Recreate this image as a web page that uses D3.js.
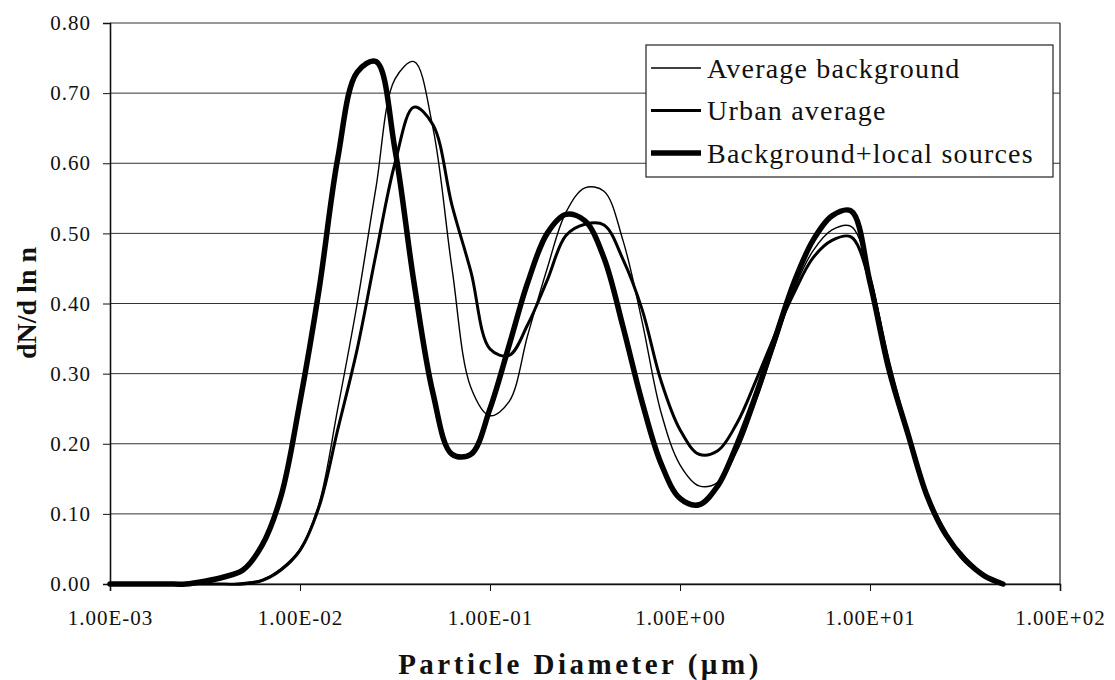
<!DOCTYPE html>
<meta charset="utf-8">
<style>
    body { margin: 0; background: #fff; }
    text { font-family: "Liberation Serif", "Times New Roman", serif; fill: #111; }
    .tick text { font-size: 21px; letter-spacing: 1px; }
    .grid line { stroke: #333; stroke-width: 1px; }
    .series { fill: none; stroke: #000; stroke-linejoin: round; stroke-linecap: round; }
</style>
<body>
<script src="https://cdn.jsdelivr.net/npm/d3@7"></script>
<script>
// particle diameter bins (um)
var sizes = [0.001, 0.00126, 0.00158, 0.002, 0.00251, 0.00316, 0.00398, 0.00501, 0.00631, 0.00794,
    0.01, 0.0126, 0.0158, 0.02, 0.0251, 0.0316, 0.0398, 0.0501, 0.0631, 0.0794,
    0.1, 0.126, 0.158, 0.2, 0.251, 0.316, 0.398, 0.501, 0.631, 0.794,
    1, 1.26, 1.58, 2, 2.51, 3.16, 3.98, 5.01, 6.31, 7.94,
    10, 12.6, 15.8, 20, 25.1, 31.6, 39.8, 50.1];

var averageBackground = [0, 0, 0, 0, 0, 0, 0, 0.002, 0.006, 0.022,
    0.05, 0.115, 0.25, 0.40, 0.565, 0.72, 0.745, 0.65, 0.45, 0.28,
    0.24, 0.26, 0.355, 0.45, 0.53, 0.565, 0.56, 0.49, 0.375, 0.245,
    0.17, 0.14, 0.145, 0.19, 0.26, 0.34, 0.42, 0.475, 0.505, 0.51,
    0.44, 0.315, 0.22, 0.13, 0.075, 0.035, 0.013, 0];

var urbanAverage = [0, 0, 0, 0, 0, 0, 0, 0, 0.005, 0.02,
    0.048, 0.11, 0.22, 0.335, 0.47, 0.60, 0.68, 0.655, 0.54, 0.445,
    0.335, 0.326, 0.37, 0.433, 0.497, 0.513, 0.512, 0.463, 0.392, 0.29,
    0.22, 0.185, 0.19, 0.23, 0.29, 0.355, 0.415, 0.465, 0.49, 0.495,
    0.43, 0.315, 0.215, 0.125, 0.07, 0.032, 0.012, 0];

var backgroundLocal = [0, 0, 0, 0, 0, 0.004, 0.01, 0.02, 0.055, 0.125,
    0.26, 0.42, 0.607, 0.73, 0.745, 0.62, 0.43, 0.272, 0.185, 0.185,
    0.25, 0.34, 0.43, 0.50, 0.527, 0.518, 0.465, 0.367, 0.26, 0.172,
    0.122, 0.113, 0.14, 0.20, 0.27, 0.35, 0.43, 0.49, 0.525, 0.532,
    0.43, 0.305, 0.215, 0.125, 0.07, 0.035, 0.012, 0];

var seriesNames = ["Average background", "Urban average", "Background+local sources"];
var seriesValues = [averageBackground, urbanAverage, backgroundLocal];
var seriesWidths = [1.4, 3, 5.5];

var xTicks = [1e-3, 1e-2, 1e-1, 1e0, 1e1, 1e2];
var yTicks = [0, 0.1, 0.2, 0.3, 0.4, 0.5, 0.6, 0.7, 0.8];

var width = 1115, height = 680;
var plot = {left: 110, right: 1060, top: 23, bottom: 584};

var svg = d3.select("body").append("svg")
    .attr("width", width)
    .attr("height", height);

var x = d3.scaleLog().domain([1e-3, 1e2]).range([plot.left, plot.right]);
var y = d3.scaleLinear().domain([0, 0.8]).range([plot.bottom, plot.top]);

// horizontal gridlines
svg.append("g")
    .attr("class", "grid")
    .selectAll("line")
    .data(yTicks)
    .enter().append("line")
    .attr("x1", plot.left)
    .attr("x2", plot.right)
    .attr("y1", function(d) { return y(d); })
    .attr("y2", function(d) { return y(d); });

// plot frame (right side)
svg.append("line")
    .attr("x1", plot.right).attr("x2", plot.right)
    .attr("y1", plot.top).attr("y2", plot.bottom)
    .attr("stroke", "#222").attr("stroke-width", 1.2);

// y axis
svg.append("g")
    .attr("transform", "translate(" + plot.left + ",0)")
    .call(d3.axisLeft(y).tickValues(yTicks).tickFormat(d3.format(".2f")).tickSizeOuter(0).tickSize(7).tickPadding(12));

// x axis
svg.append("g")
    .attr("transform", "translate(0," + plot.bottom + ")")
    .call(d3.axisBottom(x).tickValues(xTicks).tickFormat(function(d) {
        var e = Math.round(Math.log10(d));
        return "1.00E" + (e < 0 ? "-" : "+") + String(Math.abs(e)).padStart(2, "0");
    }).tickSizeOuter(0).tickSize(7).tickPadding(19));

svg.selectAll(".domain").attr("stroke", "#111").attr("stroke-width", 1.6);
svg.selectAll(".tick line").attr("stroke", "#111");

// curves
var line = d3.line()
    .x(function(d) { return x(d[0]); })
    .y(function(d) { return y(d[1]); })
    .curve(d3.curveCatmullRom.alpha(0.5));

seriesValues.forEach(function(vals, i) {
    svg.append("path")
        .attr("class", "series")
        .attr("stroke-width", seriesWidths[i])
        .attr("d", line(d3.zip(sizes, vals)));
});

// axis titles
svg.append("text")
    .attr("x", 580)
    .attr("y", 674)
    .attr("text-anchor", "middle")
    .style("font-size", "29px")
    .style("font-weight", "bold")
    .style("letter-spacing", "3.5px")
    .text("Particle Diameter (\u00b5m)");

svg.append("text")
    .attr("transform", "translate(36,303) rotate(-90)")
    .attr("text-anchor", "middle")
    .style("font-size", "28px")
    .style("font-weight", "bold")
    .text("dN/d ln n");

// legend
var legend = svg.append("g").attr("transform", "translate(646,45)");

legend.append("rect")
    .attr("width", 407)
    .attr("height", 132)
    .attr("fill", "#fff")
    .attr("stroke", "#222")
    .attr("stroke-width", 1.2);

var rows = legend.selectAll("g.row")
    .data(seriesNames)
    .enter().append("g")
    .attr("class", "row")
    .attr("transform", function(d, i) { return "translate(0," + (23 + i * 42.5) + ")"; });

rows.append("line")
    .attr("x1", 5).attr("x2", 55)
    .attr("stroke", "#000")
    .attr("stroke-width", function(d, i) { return seriesWidths[i]; });

rows.append("text")
    .attr("x", 61)
    .attr("dy", "0.35em")
    .style("font-size", "28px")
    .style("letter-spacing", "1.2px")
    .text(function(d) { return d; });
</script>
</body>
